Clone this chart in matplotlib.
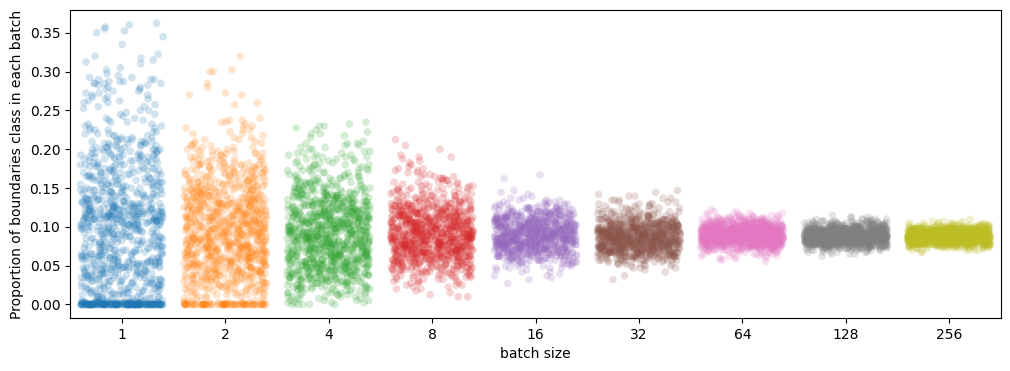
import matplotlib
matplotlib.use("Agg")
import matplotlib.pyplot as plt
import numpy as np
import pandas as pd
import seaborn as sns

batch_sizes = ["1", "2", "4", "8", "16", "32", "64", "128", "256"]

# estimated number of points per y bin
counts_1 = [170, 40, 7, 7, 8, 7, 8, 7, 8, 7, 8, 7, 9, 8, 9, 8, 9, 8, 10, 10, 12, 10, 10, 9, 10, 9, 9, 8, 8, 7,
            8, 7, 8, 7, 8, 7, 8, 8, 9, 9, 10, 11, 12, 13, 15, 15, 17, 14, 14, 12, 12, 10, 10, 8, 8, 7, 8, 7, 8, 7,
            7, 6, 7, 6, 7, 6, 7, 6, 6, 6, 6, 5, 6, 5, 6, 5, 7, 6, 6, 5, 6, 5, 5, 5, 5, 4, 3, 3, 3, 2,
            3, 2, 2, 2, 2, 2, 2, 1, 2, 1, 2, 1, 2, 1, 2, 2, 2, 2, 2, 2, 2, 2, 2, 2, 4, 3, 3, 2, 1, 1,
            0, 1, 1, 0, 1, 1, 1, 1, 1, 1, 0, 0, 0, 0, 1, 0, 0, 0, 1, 0, 1, 1, 1, 1, 1, 1]
counts_2 = [75, 10, 3, 3, 5, 5, 6, 7, 8, 8, 9, 9, 9, 10, 10, 11, 12, 12, 12, 12, 12, 13, 13, 14, 14, 14, 14, 14,
            14, 15, 15, 14, 14, 14, 14, 14, 14, 14, 14, 14, 14, 14, 14, 14, 13, 13, 13, 13, 13, 13, 13, 13, 13, 13,
            12, 11, 11, 10, 10, 10, 10, 9, 9, 8, 8, 7, 7, 7, 7, 7, 7, 7, 7, 5, 5, 4, 4, 4, 4, 4, 3, 3, 3, 2,
            2, 2, 2, 1, 2, 1, 2, 1, 2, 1, 2, 2, 1, 0, 0, 0, 0, 0, 0, 1, 1, 0, 0, 0, 2, 1, 0, 0, 1, 0, 1, 0, 0, 0,
            0, 0, 2, 1, 0, 0, 0, 0, 0, 0, 1]
counts_4 = [5, 4, 4, 4, 5, 5, 6, 6, 8, 7, 9, 9, 11, 12, 13, 13, 15, 14, 16, 16, 17, 17, 17, 17, 17, 17, 17, 17,
            18, 18, 18, 18, 19, 19, 19, 19, 19, 19, 19, 19, 18, 18, 18, 18, 17, 17, 17, 17, 16, 15, 14, 14, 13, 13,
            12, 12, 12, 11, 9, 8, 8, 7, 7, 6, 6, 5, 5, 4, 4, 4, 4, 3, 4, 3, 3, 3, 4, 3, 3, 2, 2, 2, 2, 3, 1, 0,
            1, 1, 2, 1, 1, 1, 2, 1, 1]
counts_8 = [2, 1, 1, 1, 2, 2, 3, 3, 4, 4, 6, 6, 8, 9, 11, 11, 14, 14, 17, 17, 20, 20, 23, 23, 25, 25, 26, 26,
            27, 27, 27, 27, 26, 26, 25, 25, 24, 24, 23, 23, 21, 21, 19, 19, 17, 17, 14, 14, 11, 11, 8, 7,
            6, 6, 5, 5, 5, 4, 4, 4, 3, 3, 3, 2, 2, 2, 2, 1, 1, 1, 1, 1, 2, 1, 0, 0, 1, 0, 1, 0, 0, 1]
counts_16 = [1, 0, 1, 1, 2, 1, 2, 2, 4, 4, 7, 7, 13, 13, 19, 19, 25, 25, 30, 30, 35, 35, 38, 38, 38, 38, 36, 36,
             33, 33, 30, 30, 26, 26, 22, 22, 17, 17, 11, 11, 6, 6, 4, 3, 2, 1, 1, 1, 1, 0, 0, 0, 0, 0, 1, 0, 1]
counts_32 = [1, 0, 1, 0, 1, 1, 3, 3, 6, 6, 13, 13, 25, 25, 35, 35, 42, 42, 48, 48, 50, 50, 50, 50, 45, 45, 39, 39,
             30, 30, 20, 20, 13, 13, 8, 8, 5, 5, 4, 4, 3, 3, 2, 2, 1, 1, 1]
counts_64 = [1, 2, 4, 5, 6, 10, 18, 28, 40, 52, 62, 72, 80, 84, 84, 80, 74, 66, 56, 46, 36, 26, 18, 11, 6, 4, 2, 1]
counts_128 = [1, 3, 6, 12, 24, 42, 62, 80, 96, 106, 110, 106, 96, 80, 62, 44, 30, 20, 12, 6, 3, 1]
counts_256 = [2, 6, 14, 32, 62, 92, 118, 134, 140, 136, 120, 96, 68, 36, 16, 8, 3, 1]

first_bins = [0.0, 0.0, 0.0, 0.01, 0.027, 0.032, 0.055, 0.0625, 0.0675]
all_counts = [counts_1, counts_2, counts_4, counts_8, counts_16, counts_32, counts_64, counts_128, counts_256]
bin_width = 0.0025

rows = []
for size, start, counts in zip(batch_sizes, first_bins, all_counts):
    levels = start + bin_width * np.arange(len(counts))
    rows.append(pd.DataFrame({"batch size": size, "prop": np.repeat(levels, counts)}))
df = pd.concat(rows, ignore_index=True)

np.random.seed(0)  # only for the x jitter
fig, ax = plt.subplots(figsize=(10.1, 3.71), dpi=100)
sns.stripplot(data=df, x="batch size", y="prop", hue="batch size", order=batch_sizes,
              hue_order=batch_sizes, palette="tab10", alpha=0.2, jitter=0.4, size=5.5,
              legend=False, ax=ax)
ax.set_xlim(-0.5, 8.5)
ax.set_ylim(-0.0174, 0.3795)
ax.set_xlabel("batch size")
ax.set_ylabel("Proportion of boundaries class in each batch")
fig.subplots_adjust(left=70 / 1010, right=1001 / 1010, top=1 - 10 / 371, bottom=1 - 318 / 371)
fig.savefig("out.png", dpi=100)
